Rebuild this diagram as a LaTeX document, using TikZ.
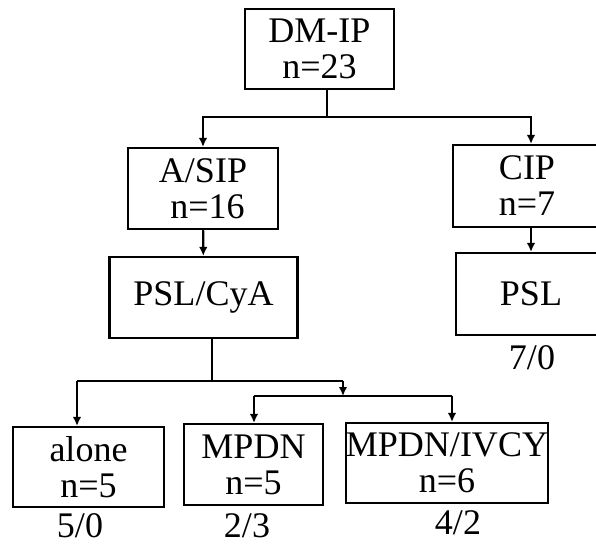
\documentclass[tikz,border=0pt]{standalone}
\usepackage{fontspec}
\setmainfont{Liberation Serif}
\usetikzlibrary{arrows.meta}

\begin{document}
\begin{tikzpicture}[x=0.02cm, y=-0.02cm, line width=1.2pt,
    main/.style = {draw, rectangle, align=center, inner sep=0pt, font=\fontsize{20.5}{20.5}\selectfont},
    tag/.style = {inner sep=0pt, font=\fontsize{20.5}{20.5}\selectfont},
    arr/.style = {-{Latex[length=0.18cm, width=0.17cm]}}]
    \useasboundingbox (0,0) rectangle (596,544);
    \clip (0,0) rectangle (596,544);

    \node[main, minimum width=2.98cm, minimum height=1.6cm](dmip) at (319.5,49){DM-IP\\n=23};
    \node[main, minimum width=3.0cm, minimum height=1.62cm](asip) at (203,188.5){A/SIP\\\ n=16};
    \node[main, minimum width=2.96cm, minimum height=1.64cm](cip) at (527,186){CIP\\n=7};
    \node[main, minimum width=3.76cm, minimum height=1.62cm](cya) at (203.5,297.5){PSL/CyA};
    \node[main, minimum width=3.0cm, minimum height=1.64cm](psl) at (531,294){PSL};
    \node[main, minimum width=3.02cm, minimum height=1.6cm](alone) at (88.5,467){alone\\n=5};
    \node[main, minimum width=2.78cm, minimum height=1.62cm](mpdn) at (253.5,464.5){MPDN\\n=5};
    \node[main, minimum width=3.8cm, minimum height=1.6cm](ivcy) at (447,463){MPDN/IVCY\\n=6};

    \node[tag](r1) at (532,358){7/0};
    \node[tag](r2) at (80,526){5/0};
    \node[tag](r3) at (247,526){2/3};
    \node[tag](r4) at (458,523){4/2};

    \coordinate (top) at (327,117);
    \coordinate (split) at (212,381);
    \coordinate (splitl) at (77,381);
    \coordinate (splitr) at (343,381);
    \coordinate (sub) at (343,396);
    \coordinate (subl) at (254,396);
    \coordinate (subr) at (452,396);

    \draw (dmip.south -| top) -- (top);
    \draw[arr] (top) -| (asip);
    \draw[arr] (top) -| (cip.north -| psl);
    \draw[arr] (asip) -- (cya);
    \draw[arr] (cip.south -| psl) -- (psl);
    \draw (cya.south -| split) -- (split);
    \draw (splitl) -- (splitr);
    \draw[arr] (splitl) -- (splitl |- alone.north);
    \draw[arr] (splitr) -- (sub);
    \draw (subl) -- (subr);
    \draw[arr] (subl) -- (subl |- mpdn.north);
    \draw[arr] (subr) -- (subr |- ivcy.north);
\end{tikzpicture}
\end{document}
